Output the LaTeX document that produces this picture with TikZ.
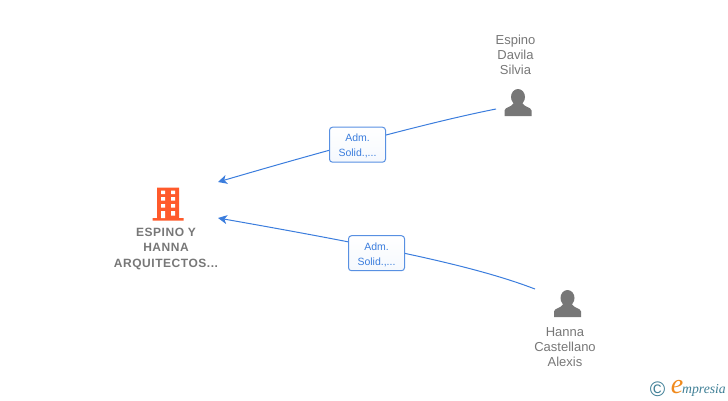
\documentclass[tikz,border=0pt]{standalone}
\usepackage{fontspec}
\setmainfont{Liberation Sans}
\newfontfamily\wide[LetterSpace=4.5]{Liberation Sans}
\newfontfamily\logofont{Liberation Serif}
\usetikzlibrary{arrows.meta}
\definecolor{linkblue}{HTML}{3B7DDD}
\definecolor{namegray}{HTML}{777777}
\definecolor{iconorange}{HTML}{FF5A2B}
\definecolor{logoteal}{HTML}{3F7F96}
\definecolor{logoorange}{HTML}{F08A1D}

\begin{document}
\begin{tikzpicture}[x=1pt,y=-1pt,
  link/.style={draw=linkblue, line width=1pt, -{Stealth[length=9pt,width=9pt,inset=2.5pt]}},
  role/.style={draw=linkblue!85!white, line width=1pt, rounded corners=3pt, top color=white, bottom color=linkblue!5,
    minimum width=56pt, minimum height=35pt, inner sep=0pt, align=center, text=linkblue,
    font=\fontsize{10.5}{15}\selectfont},
  person/.style={text=namegray, align=center, inner sep=0pt, font=\fontsize{13}{15}\selectfont},
  company/.style={text=namegray, align=center, inner sep=0pt, font=\wide\bfseries\fontsize{12}{15.5}\selectfont},
  personicon/.pic={
    \fill[namegray] (0,-6) ellipse (7 and 8)
      (-13.5,13) -- (-13.5,7.5) .. controls (-13,4) and (-7,4.5) .. (-4,0) -- (4,0)
      .. controls (7,4.5) and (13,4) .. (13.5,7.5) -- (13.5,13) -- cycle;
  },
  buildingicon/.pic={
    \fill[iconorange] (-11,-15.5) rectangle (11,15) (-15.5,15) rectangle (15.5,17.5);
    \fill[white] \foreach \yy in {-12.5,-5.8,1} {(-7,\yy) rectangle (-3,\yy+3.5) (3,\yy) rectangle (7,\yy+3.5)}
      (-7,8) rectangle (-3,15) (3,8) rectangle (7,12.5);
  }]
  \useasboundingbox (0,0) rectangle (728,400);

  % arrow ends
  \coordinate (silviaend) at (496,109);
  \coordinate (alexisend) at (535,289);
  \coordinate (tipone) at (218,182);
  \coordinate (tiptwo) at (218,218);

  \draw[link] (silviaend) .. controls (420,124) and (300,158) .. (tipone);
  \draw[link] (alexisend) .. controls (480,268) and (400,250) .. (tiptwo);

  \node[role] (roleone) at (357.5,144.7) {\rule{0pt}{10pt}Adm.\\Solid.,...};
  \node[role] (roletwo) at (376.5,253.2) {\rule{0pt}{10pt}Adm.\\Solid.,...};

  \pic at (168,203) {buildingicon};
  \node[company] (hanna) at (166,248.5) {ESPINO Y\\HANNA\\ARQUITECTOS...};

  \pic at (518,103) {personicon};
  \node[person] (silvia) at (515.5,55) {Espino\\Davila\\Silvia};

  \pic at (567.5,304) {personicon};
  \node[person] (alexis) at (565,347) {Hanna\\Castellano\\Alexis};

  % logo
  \node[text=logoteal, inner sep=0pt, font=\fontsize{21}{21}\selectfont] (copyr) at (657.5,389) {©};
  \node[text=logoorange, inner sep=0pt, font=\logofont\itshape\fontsize{28}{28}\selectfont] (logoe) at (677,387) {e};
  \node[text=logoteal, inner sep=0pt, anchor=base west, font=\logofont\itshape\fontsize{13.7}{14}\selectfont] (logotext) at (682,393) {mpresia};
\end{tikzpicture}
\end{document}
